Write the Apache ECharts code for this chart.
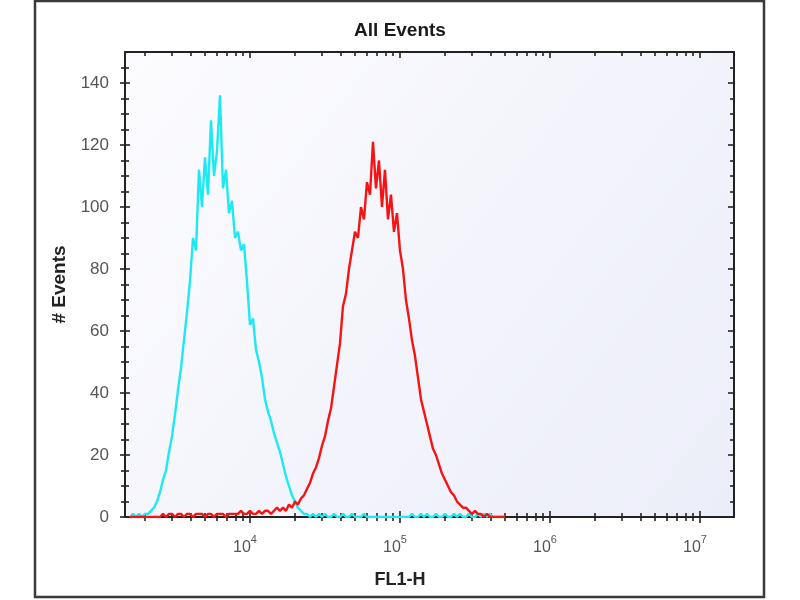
<!DOCTYPE html>
<html><head><meta charset="utf-8">
<script src="https://cdn.jsdelivr.net/npm/echarts@6/dist/echarts.min.js"></script>
<style>html,body{margin:0;padding:0;background:#fff}#c{width:800px;height:600px}</style>
</head><body><div id="c"></div>
<script>
const titleText = 'All Events';
const xName = 'FL1-H';
const yName = '# Events';
const xMin = 1468, xMax = 16866000;
const yMin = 0, yMax = 150;
const xMajorTicks = [1e4, 1e5, 1e6, 1e7];
const xMinorTicks = [2e3,3e3,4e3,5e3,6e3,7e3,8e3,9e3,
  2e4,3e4,4e4,5e4,6e4,7e4,8e4,9e4,
  2e5,3e5,4e5,5e5,6e5,7e5,8e5,9e5,
  2e6,3e6,4e6,5e6,6e6,7e6,8e6,9e6];
const yMajorTicks = [0,20,40,60,80,100,120,140];
const yMinorTicks = [5,10,15,25,30,35,45,50,55,65,70,75,85,90,95,105,110,115,125,130,135,145];
// bin centres, log10(FL1-H)
const binLog = [
  3.20,3.22,3.24,3.26,3.28,3.30,3.32,3.34,3.36,3.38,
  3.40,3.42,3.44,3.46,3.48,3.50,3.52,3.54,3.56,3.58,
  3.60,3.62,3.64,3.66,3.68,3.70,3.72,3.74,3.76,3.78,
  3.80,3.82,3.84,3.86,3.88,3.90,3.92,3.94,3.96,3.98,
  4.00,4.02,4.04,4.06,4.08,4.10,4.12,4.14,4.16,4.18,
  4.20,4.22,4.24,4.26,4.28,4.30,4.32,4.34,4.36,4.38,
  4.40,4.42,4.44,4.46,4.48,4.50,4.52,4.54,4.56,4.58,
  4.60,4.62,4.64,4.66,4.68,4.70,4.72,4.74,4.76,4.78,
  4.80,4.82,4.84,4.86,4.88,4.90,4.92,4.94,4.96,4.98,
  5.00,5.02,5.04,5.06,5.08,5.10,5.12,5.14,5.16,5.18,
  5.20,5.22,5.24,5.26,5.28,5.30,5.32,5.34,5.36,5.38,
  5.40,5.42,5.44,5.46,5.48,5.50,5.52,5.54,5.56,5.58,
  5.60,5.62,5.64,5.66,5.68,5.70];
const cyanCounts = [
  0,1,0,1,0,1,1,2,3,5,
  8,12,15,21,26,33,41,48,57,66,
  76,90,86,112,100,116,104,128,110,118,
  136,106,112,98,102,90,92,86,88,76,
  62,64,54,50,45,38,34,31,27,24,
  21,17,13,10,7,5,3,2,1,1,
  0,1,0,1,0,1,0,0,1,0,
  0,1,0,0,1,0,0,0,1,0,
  0,0,0,0,0,0,0,0,0,0,
  0,0,0,0,1,0,0,1,0,1,
  0,0,1,0,0,1,0,0,1,0,
  1,0,0,1,0,0,1,0,1,0,
  1,0,0,0,0,0];
const redCounts = [
  0,0,0,0,0,0,0,0,0,0,
  0,1,0,1,1,0,1,1,0,1,
  1,0,1,1,1,0,1,1,0,1,
  1,1,0,1,1,1,1,2,1,1,
  2,1,1,2,1,2,2,1,2,3,
  2,3,2,4,3,5,4,6,7,9,
  11,14,16,19,23,26,31,35,42,49,
  56,68,72,80,86,92,90,100,96,108,
  104,121,106,115,100,112,96,104,92,98,
  86,80,70,64,57,52,45,38,34,30,
  26,22,20,17,14,12,10,8,7,5,
  4,3,3,2,1,2,1,1,0,1,
  0,0,0,0,0,0];

const FONT = 'Liberation Sans, Arial, sans-serif';
const AX = '#222';
const toPairs = counts => binLog.map((l, i) => [Math.pow(10, l), counts[i]]);

function xAxisDef(pos, opts) {
  return Object.assign({
    type: 'log', logBase: 10, min: xMin, max: xMax, position: pos,
    axisLine: {show: false, onZero: false},
    splitLine: {show: false}, axisLabel: {show: false},
    axisTick: {show: false}
  }, opts);
}
function yAxisDef(pos, opts) {
  return Object.assign({
    type: 'value', min: yMin, max: yMax, position: pos,
    axisLine: {show: false, onZero: false},
    splitLine: {show: false}, axisLabel: {show: false},
    axisTick: {show: false}
  }, opts);
}
const tick = (vals, inside, len) => ({show: true, inside: inside, length: len, customValues: vals, lineStyle: {color: AX, width: 1.6}});
const line = {show: true, onZero: false, lineStyle: {color: AX, width: 2}};

const chart = echarts.init(document.getElementById('c'), null, {renderer: 'canvas'});
chart.setOption({
  animation: false,
  backgroundColor: '#ffffff',
  title: {text: titleText, left: 'center', top: 16,
    textStyle: {fontFamily: FONT, fontSize: 19, fontWeight: 'bold', color: '#1a1a1a'}},
  grid: {left: 125, top: 52, right: 66, bottom: 83, show: true, borderWidth: 0,
    backgroundColor: new echarts.graphic.LinearGradient(0, 0, 1, 1, [
      {offset: 0, color: '#fcfcff'}, {offset: 1, color: '#ebedf8'}])},
  graphic: [{type: 'rect', silent: true, z: 100,
    shape: {x: 35, y: 1, width: 729, height: 596},
    style: {fill: 'none', stroke: '#3a3a3a', lineWidth: 2.5}}],
  xAxis: [
    xAxisDef('bottom', {axisLine: line, axisTick: tick(xMajorTicks, false, 6),
      name: xName, nameLocation: 'middle', nameGap: 54,
      nameTextStyle: {fontFamily: FONT, fontSize: 18, fontWeight: 'bold', color: '#222', padding: [0, 59, 0, 0]},
      axisLabel: {show: true, customValues: xMajorTicks, margin: 17, padding: [0, 10, 0, 0],
        formatter: v => '{b|10}{s|' + Math.round(Math.log10(v)) + '}',
        rich: {b: {fontFamily: FONT, fontSize: 16, color: '#555', lineHeight: 22, verticalAlign: 'bottom'},
               s: {fontFamily: FONT, fontSize: 11, color: '#555', lineHeight: 22, verticalAlign: 'top'}}}}),
    xAxisDef('bottom', {axisTick: tick(xMajorTicks, true, 6)}),
    xAxisDef('bottom', {axisTick: tick(xMinorTicks, false, 4)}),
    xAxisDef('bottom', {axisTick: tick(xMinorTicks, true, 4)}),
    xAxisDef('top', {axisLine: line, axisTick: tick(xMajorTicks, true, 6)}),
    xAxisDef('top', {axisTick: tick(xMinorTicks, true, 4)})
  ],
  yAxis: [
    yAxisDef('left', {axisLine: line, axisTick: tick(yMajorTicks, false, 5),
      name: yName, nameLocation: 'middle', nameGap: 56, nameRotate: 90,
      nameTextStyle: {fontFamily: FONT, fontSize: 19, fontWeight: 'bold', color: '#222'},
      axisLabel: {show: true, customValues: yMajorTicks, margin: 16,
        fontFamily: FONT, fontSize: 17, color: '#555'}}),
    yAxisDef('left', {axisTick: tick(yMajorTicks, true, 5)}),
    yAxisDef('left', {axisTick: tick(yMinorTicks, false, 4)}),
    yAxisDef('left', {axisTick: tick(yMinorTicks, true, 4)}),
    yAxisDef('right', {axisLine: line, axisTick: tick(yMajorTicks, true, 6)}),
    yAxisDef('right', {axisTick: tick(yMinorTicks, true, 4)})
  ],
  series: [
    {name: 'control', type: 'line', xAxisIndex: 0, yAxisIndex: 0, data: toPairs(cyanCounts),
      showSymbol: false, symbol: 'none', lineStyle: {color: '#1ee8f2', width: 2.4}, z: 3},
    {name: 'sample', type: 'line', xAxisIndex: 0, yAxisIndex: 0, data: toPairs(redCounts),
      showSymbol: false, symbol: 'none', lineStyle: {color: '#f51414', width: 2.4}, z: 4}
  ]
});
</script>
</body></html>
